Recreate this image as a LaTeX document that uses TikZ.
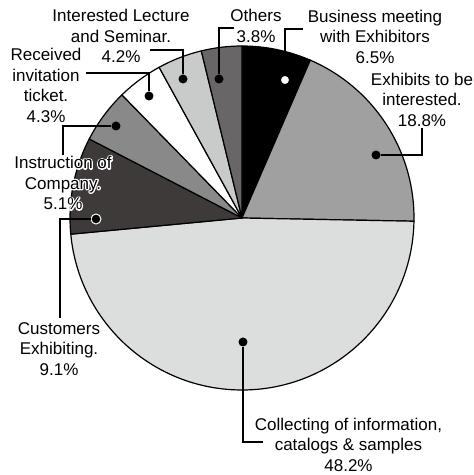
\documentclass[tikz,border=0pt]{standalone}
\usepackage{fontspec}
\setmainfont{Liberation Sans}
\definecolor{cExh}{HTML}{A0A0A0}
\definecolor{cCol}{HTML}{DCDDDD}
\definecolor{cCus}{HTML}{3E3A39}
\definecolor{cIns}{HTML}{898989}
\definecolor{cInt}{HTML}{C9CACA}
\definecolor{cOth}{HTML}{686666}
\newcommand\halostart{\special{pdf:literal direct 1 Tr 2.6 w 1 1 1 RG 1 j 1 J}}
\newcommand\haloend{\special{pdf:literal direct 0 Tr}}
\begin{document}
\begin{tikzpicture}[x=1pt,y=1pt,
  lbl/.style={align=center, font=\fontsize{17}{20.5}\selectfont, inner sep=0pt},
  slice/.style={draw=black, line width=1.2pt, line join=round},
  conn/.style={draw=black, line width=1.3pt},
  dotm/.style={circle, fill=black, minimum size=9pt, inner sep=0pt},
  dotopen/.style={circle, fill=white, draw=black, line width=1.2pt, minimum size=9.5pt, inner sep=0pt},
  dotring/.style={circle, fill=black, draw=white, line width=1pt, minimum size=10pt, inner sep=0pt}]
\useasboundingbox (0,0) rectangle (474,475);
\coordinate (C) at (242,257);
\def\R{172}
% pie slices (clockwise from top)
\filldraw[slice, fill=black] (C) -- ++(90:\R) arc[start angle=90, end angle=66.6, radius=\R] -- cycle;
\filldraw[slice, fill=cExh] (C) -- ++(66.6:\R) arc[start angle=66.6, end angle=-1.08, radius=\R] -- cycle;
\filldraw[slice, fill=cCol] (C) -- ++(-1.08:\R) arc[start angle=-1.08, end angle=-174.6, radius=\R] -- cycle;
\filldraw[slice, fill=cCus] (C) -- ++(-174.6:\R) arc[start angle=-174.6, end angle=-207.36, radius=\R] -- cycle;
\filldraw[slice, fill=cIns] (C) -- ++(152.64:\R) arc[start angle=152.64, end angle=134.28, radius=\R] -- cycle;
\filldraw[slice, fill=white] (C) -- ++(134.28:\R) arc[start angle=134.28, end angle=118.8, radius=\R] -- cycle;
\filldraw[slice, fill=cInt] (C) -- ++(118.8:\R) arc[start angle=118.8, end angle=103.68, radius=\R] -- cycle;
\filldraw[slice, fill=cOth] (C) -- ++(103.68:\R) arc[start angle=103.68, end angle=90, radius=\R] -- cycle;

% labels
\node[lbl] (tBiz) at (375,438.5) {Business meeting\\with Exhibitors\\6.5\%};
\node[lbl] (tExh) at (422,375.5) {Exhibits to be\\interested.\\18.8\%};
\node[lbl] (tOth) at (256,449) {Others\\3.8\%};
\node[lbl] (tInt) at (121,439) {Interested Lecture\\and Seminar.\\4.2\%};
\node[lbl] (tRec) at (46,389.5) {Received\\invitation\\ticket.\\4.3\%};
\node[lbl, text=white] (tInsHalo) at (63,292) {\halostart Instruction of\\\halostart Company.\\\halostart 5.1\%\haloend};
\node[lbl] (tIns) at (63,292) {Instruction of\\Company.\\5.1\%};
\node[lbl] (tCus) at (59,126) {Customers\\Exhibiting.\\9.1\%};
\node[lbl] (tCol) at (348.5,30.3) {Collecting of information,\\catalogs \& samples\\48.2\%};

% markers
\node[dotopen] (dBiz) at (285,395) {};
\node[dotm] (dExh) at (376,320) {};
\node[dotm] (dOth) at (219,396) {};
\node[dotm] (dInt) at (183,396) {};
\node[dotm] (dRec) at (149,379) {};
\node[dotm] (dIns) at (116,349) {};
\node[dotring] (dCus) at (96,256) {};
\node[dotm] (dCol) at (243,133) {};

% connector ends
\coordinate (eBiz) at (303,446);
\coordinate (eExh) at (422,347);
\coordinate (eOth) at (234,447);
\coordinate (eInt) at (150,425);
\coordinate (eRec) at (86,402);
\coordinate (eIns) at (63,320);
\coordinate (eCus) at (60,157);
\coordinate (eCol) at (263,33);

\draw[conn] (dBiz) |- (eBiz);
\draw[conn] (dExh) -| (eExh);
\draw[conn] (dOth) |- (eOth);
\draw[conn] (dInt) |- (eInt);
\draw[conn] (dRec) |- (eRec);
\draw[conn] (dIns) -| (eIns);
\draw[conn] (dCus) -| (eCus);
\draw[conn] (dCol) |- (eCol);
\end{tikzpicture}
\end{document}
